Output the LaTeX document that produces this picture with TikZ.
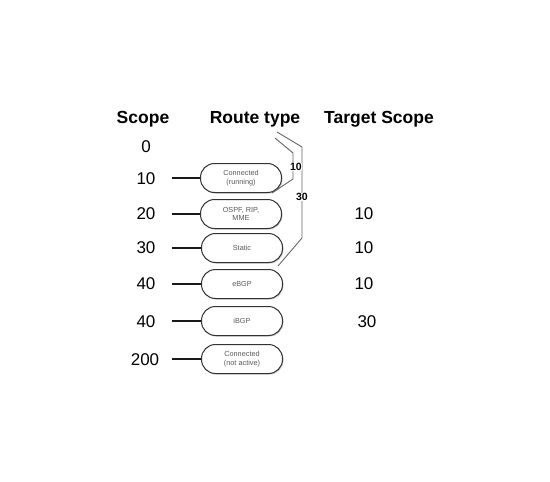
\documentclass[tikz,border=0pt]{standalone}
\usepackage{fontspec}
\setmainfont{Liberation Sans}
\usetikzlibrary{shadows}
\begin{document}
\begin{tikzpicture}[x=1pt,y=-1pt,
  head/.style={font=\fontsize{17.5}{19}\selectfont\bfseries, anchor=base},
  num/.style={font=\fontsize{17}{18}\selectfont},
  rbox/.style={draw=black!80, line width=1pt, rounded corners=14pt, fill=white,
    minimum width=81pt, minimum height=29pt, align=center, text=black!65,
    font=\fontsize{7.3}{8.3}\selectfont, inner sep=1pt,
    drop shadow={shadow xshift=1pt, shadow yshift=-1pt, fill=black!35, opacity=0.6}},
  conn/.style={line width=1.4pt, black!90},
  brk/.style={line width=0.9pt, black!60},
  blab/.style={font=\fontsize{10.5}{11}\selectfont\bfseries}]
\useasboundingbox[fill=white] (0,0) rectangle (550,482);
% headers
\node[head] (hs) at (143,123) {Scope};
\node[head] (hr) at (255,123) {Route type};
\node[head] (ht) at (379,123) {Target Scope};
% scope numbers
\node[num] (s0) at (146,147) {0};
\node[num] (s1) at (146,179) {10};
\node[num] (s2) at (146,214) {20};
\node[num] (s3) at (146,248) {30};
\node[num] (s4) at (146,284) {40};
\node[num] (s5) at (146,322) {40};
\node[num] (s6) at (145,360) {200};
% boxes
\node[rbox] (b1) at (241,178) {Connected\\(running)};
\node[rbox] (b2) at (241,214) {OSPF, RIP,\\MME};
\node[rbox] (b3) at (242,248) {Static};
\node[rbox] (b4) at (242,284) {eBGP};
\node[rbox] (b5) at (242,321) {iBGP};
\node[rbox] (b6) at (242,359) {Connected\\(not active)};
% connector start points
\foreach \i/\y in {1/178,2/214,3/248,4/284,5/321,6/359}{
  \coordinate (l\i) at (172,\y);
  \draw[conn] (l\i) -- (b\i.west);
}
% target scope numbers
\node[num] (t2) at (364,214) {10};
\node[num] (t3) at (364,248) {10};
\node[num] (t4) at (364,284) {10};
\node[num] (t5) at (367,322) {30};
% brackets
\coordinate (ia) at (275,138);
\coordinate (ib) at (293,153);
\coordinate (ic) at (293,179);
\coordinate (id) at (272,193);
\draw[brk] (ia) -- (ib) -- (ic) -- (id);
\coordinate (oa) at (277,132);
\coordinate (ob) at (302,147);
\coordinate (oc) at (302,238);
\coordinate (od) at (278,266);
\draw[brk] (oa) -- (ob) -- (oc) -- (od);
\node[blab, fill=white, inner sep=0.5pt] (bl1) at (296,167) {10};
\node[blab, fill=white, inner sep=0.5pt] (bl2) at (302,197) {30};
\end{tikzpicture}
\end{document}
